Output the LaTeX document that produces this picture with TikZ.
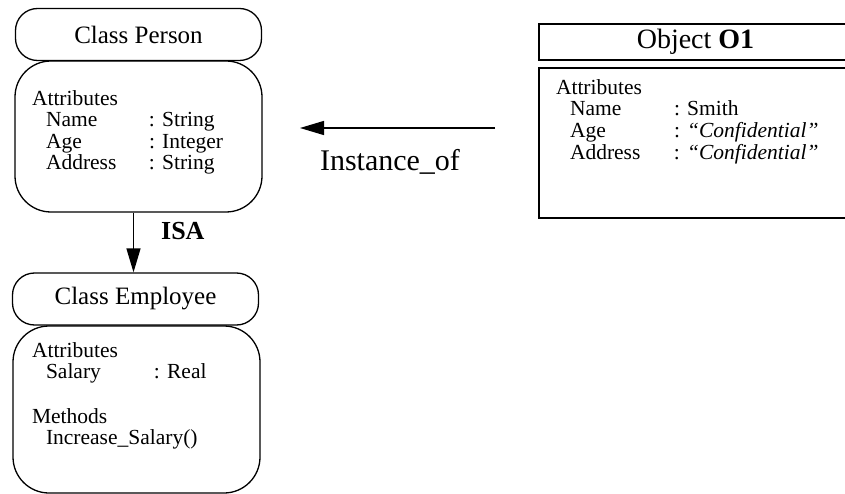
\documentclass[tikz,border=0pt]{standalone}
\usepackage{fontspec}
\setmainfont{Liberation Serif}
\usetikzlibrary{arrows.meta}

\newcommand{\memberlist}[1]{\begin{tabular}[t]{@{}l@{}}#1\end{tabular}}

\begin{document}
\begin{tikzpicture}[x=1pt,y=-1pt,>={Triangle[length=24pt,width=14pt]},
        line width=1.3pt,
        classhead/.style={draw,rounded corners=22pt,minimum width=246pt,
            minimum height=52pt,inner sep=0pt,font=\fontsize{25}{28}\selectfont},
        classbody/.style={draw,rounded corners=36pt,minimum width=247pt,inner sep=0pt},
        objbox/.style={draw,minimum width=313pt,inner sep=0pt},
        members/.style={anchor=base west,inner sep=0pt,
            font=\fontsize{21.5}{21.5}\selectfont},
        linklabel/.style={inner sep=0pt,font=\fontsize{30}{32}\selectfont}]
    % --- page: the object box runs off the right edge ---
    \useasboundingbox (0,0) rectangle (845,494);
    \clip (0,0) rectangle (845,494);
    % --- Class Person ---
    \node[classhead] (phead) at (138.5,34.5) {Class Person};
    \node[classbody,minimum height=151pt] (pbody) at (138.5,136.5) {};
    \node[members] (pattr) at ([shift={(17pt,-45pt)}]pbody.north west)
        {\memberlist{Attributes\\
         \hspace*{14pt}\makebox[103pt][l]{Name}: String\\
         \hspace*{14pt}\makebox[103pt][l]{Age}: Integer\\
         \hspace*{14pt}\makebox[103pt][l]{Address}: String}};
    % --- Class Employee ---
    \node[classhead] (ehead) at (135.5,299) {Class Employee};
    \node[classbody,minimum height=167pt] (ebody) at (136.5,409.5) {};
    \node[members] (eattr) at ([shift={(19pt,-32pt)}]ebody.north west)
        {\memberlist{Attributes\\
         \hspace*{14pt}\makebox[108pt][l]{Salary}: Real\\[23pt]
         Methods\\
         \hspace*{14pt}Increase\_Salary()}};
    % --- Object O1 ---
    \node[objbox,minimum height=36pt,font=\fontsize{28}{30}\selectfont] (ohead)
        at (695.5,42) {Object \textbf{O1}};
    \node[objbox,minimum height=150pt] (obody) at (695.5,143) {};
    \node[members] (oattr) at ([shift={(17pt,-27pt)}]obody.north west)
        {\memberlist{Attributes\\
         \hspace*{14pt}\makebox[104pt][l]{Name}: Smith\\
         \hspace*{14pt}\makebox[104pt][l]{Age}: \textit{``Confidential''}\\
         \hspace*{14pt}\makebox[104pt][l]{Address}: \textit{``Confidential''}}};
    % --- links ---
    \draw[->] ([xshift=-5pt]pbody.south) -- ([xshift=-5pt]pbody.south |- ehead.north)
        node[linklabel,pos=0.3,right=27pt,font=\bfseries\fontsize{26}{30}\selectfont] (isa) {ISA};
    \coordinate (itail) at (495,128);
    \coordinate (ihead) at (300,128);
    \draw[->] (itail) -- (ihead);
    \node[linklabel] (inst) at (390,162) {Instance\_of};
\end{tikzpicture}
\end{document}
